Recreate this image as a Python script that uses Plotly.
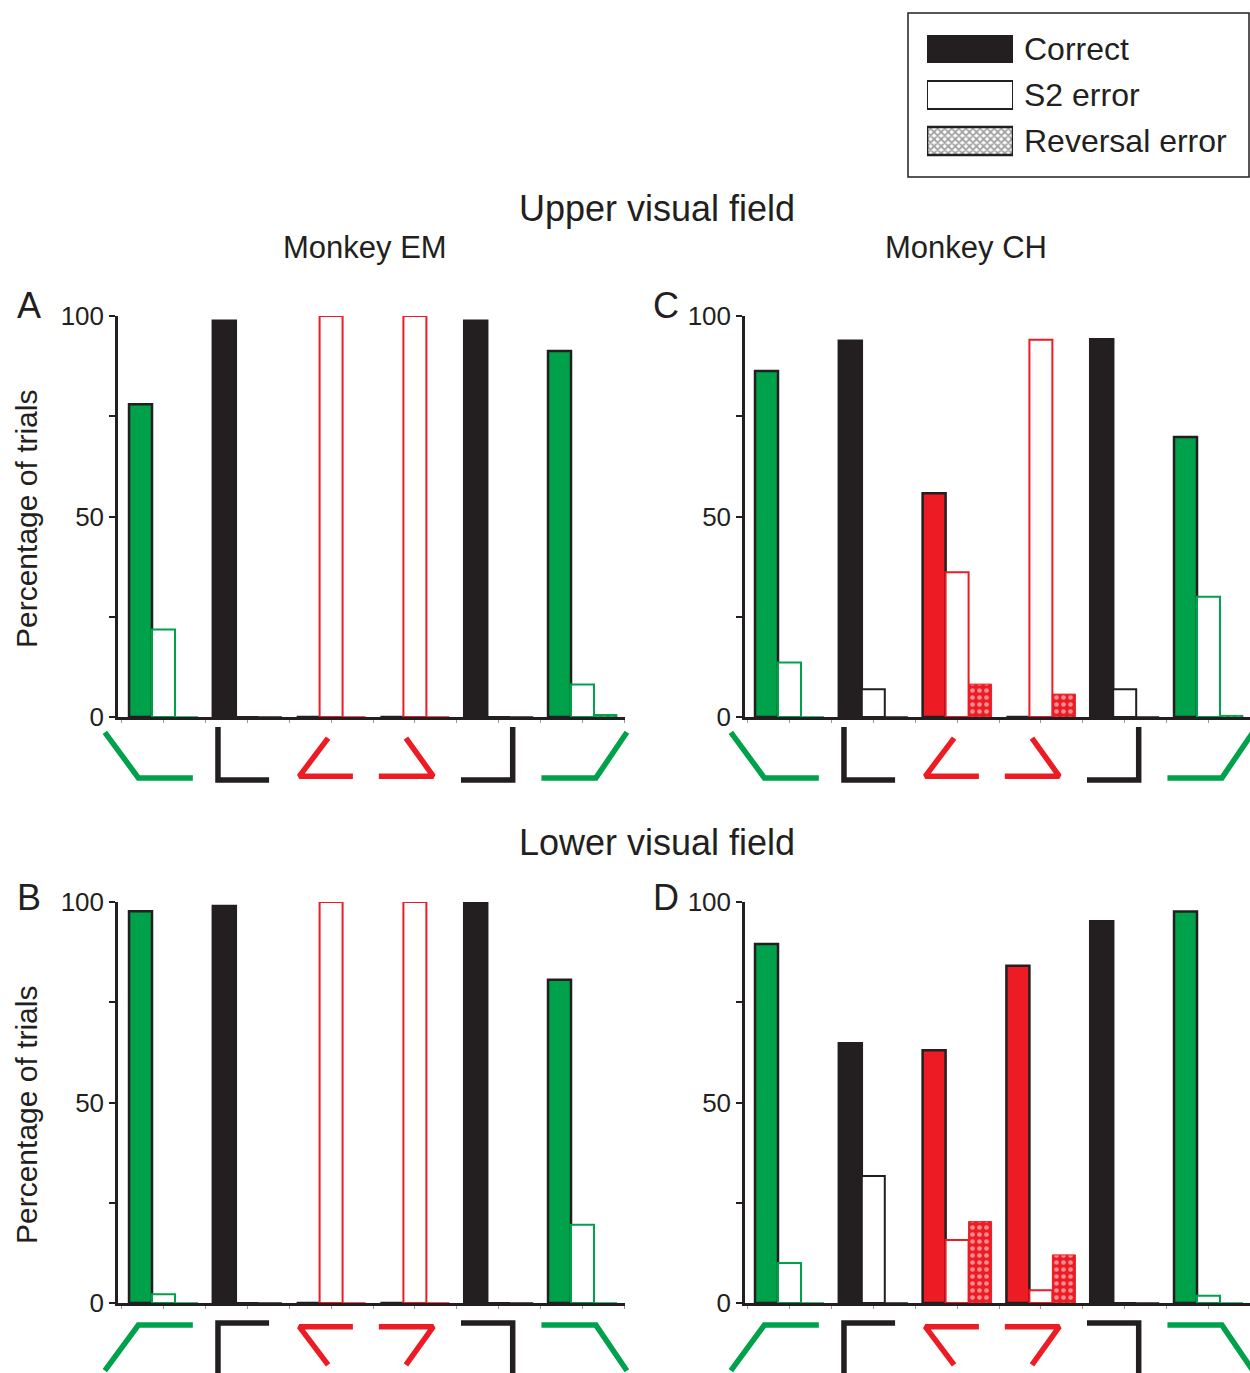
import plotly.graph_objects as go

# ---------------- data ----------------
STIMULI = ["obtuse-left", "right-left", "acute-left", "acute-right", "right-right", "obtuse-right"]
GROUP_COLORS = ["#00a14b", "#231f20", "#ed1c24", "#ed1c24", "#231f20", "#00a14b"]
SERIES_NAMES = ["Correct", "S2 error", "Reversal error"]

UPPER_EM_CORRECT = [78.0, 98.8, 0, 0, 98.8, 91.3]
UPPER_EM_S2 = [21.8, 0, 100, 100, 0, 8.1]
UPPER_EM_REV = [0, 0, 0, 0, 0, 0.6]

UPPER_CH_CORRECT = [86.3, 93.8, 55.8, 0, 94.2, 69.8]
UPPER_CH_S2 = [13.6, 6.9, 36.1, 94.1, 6.9, 30.0]
UPPER_CH_REV = [0, 0, 8.2, 5.7, 0, 0.4]

LOWER_EM_CORRECT = [97.7, 99.0, 0, 0, 100, 80.6]
LOWER_EM_S2 = [2.2, 0, 100, 100, 0, 19.5]
LOWER_EM_REV = [0, 0, 0, 0, 0, 0]

LOWER_CH_CORRECT = [89.5, 64.8, 63.0, 84.1, 95.2, 97.6]
LOWER_CH_S2 = [10.0, 31.7, 15.7, 3.2, 0, 1.8]
LOWER_CH_REV = [0, 0, 20.3, 12.0, 0, 0]

Y_TICKS = [0, 25, 50, 75, 100]
Y_TICKTEXT = ["0", "", "50", "", "100"]

# ---------------- style / layout ----------------
W, H = 1250, 1373
DARK = "#231f20"
FONT = "Liberation Sans, Arial, Helvetica, sans-serif"
PPU = 83.8  # pixels per category unit

# icon glyph templates (x offset from category centre, y in icon units)
ICON_TEMPLATES = [
    ([-0.70, -0.30, 0.35], [0.90, 0.04, 0.04]),
    ([-0.35, -0.35, 0.26], [1.00, 0.00, 0.00]),
    ([-0.036, -0.38, 0.26], [0.79, 0.07, 0.07]),
    ([-0.43, 0.22, -0.107], [0.07, 0.07, 0.79]),
    ([-0.45, 0.167, 0.167], [0.00, 0.00, 1.00]),
    ([-0.49, 0.16, 0.53], [0.04, 0.04, 0.90]),
]


def px_x(x):
    return x / W


def px_y(y):
    return 1 - y / H


def xr(d0, d1, c0):
    return [(d0 - c0) / PPU, (d1 - c0) / PPU]


positions = list(range(len(STIMULI)))

panels = [
    ("A", UPPER_EM_CORRECT, UPPER_EM_S2, UPPER_EM_REV, 118, 625, 163.5, 316, 717),
    ("C", UPPER_CH_CORRECT, UPPER_CH_S2, UPPER_CH_REV, 745, 1250, 789.5, 316, 717),
    ("B", LOWER_EM_CORRECT, LOWER_EM_S2, LOWER_EM_REV, 118, 625, 163.5, 902, 1303),
    ("D", LOWER_CH_CORRECT, LOWER_CH_S2, LOWER_CH_REV, 745, 1250, 789.5, 902, 1303),
]

fig = go.Figure()
layout_axes = {}

for k, (name, corr, s2, rev, a0, a1, c0, top, bot) in enumerate(panels):
    n = k + 1
    xa = "x" if n == 1 else f"x{n}"
    ya = "y" if n == 1 else f"y{n}"
    fig.add_trace(go.Bar(
        x=positions, y=corr, xaxis=xa, yaxis=ya, name=SERIES_NAMES[0],
        marker=dict(color=GROUP_COLORS, line=dict(color=DARK, width=2.5)),
        cliponaxis=False, showlegend=False))
    fig.add_trace(go.Bar(
        x=positions, y=s2, xaxis=xa, yaxis=ya, name=SERIES_NAMES[1],
        marker=dict(color="white", line=dict(color=GROUP_COLORS, width=2)),
        cliponaxis=False, showlegend=False))
    fig.add_trace(go.Bar(
        x=positions, y=rev, xaxis=xa, yaxis=ya, name=SERIES_NAMES[2],
        marker=dict(color=GROUP_COLORS, line=dict(color=GROUP_COLORS, width=1),
                    pattern=dict(shape=".", fgcolor="white", bgcolor=GROUP_COLORS,
                                 size=7, solidity=0.35)),
        cliponaxis=False, showlegend=False))

    key = "" if n == 1 else str(n)
    layout_axes[f"xaxis{key}"] = dict(
        domain=[px_x(a0), px_x(a1)], range=xr(a0, a1, c0), anchor=ya,
        showline=True, linewidth=2.5, linecolor=DARK, showgrid=False, zeroline=False,
        ticks="outside", ticklen=3, tickwidth=1, tickcolor="#999999",
        tickvals=[i / 2 for i in range(-1, 12)], showticklabels=False)
    layout_axes[f"yaxis{key}"] = dict(
        domain=[px_y(bot), px_y(top)], range=[0, 100], anchor=xa,
        showline=True, linewidth=2.5, linecolor=DARK, showgrid=False, zeroline=False,
        ticks="outside", ticklen=6, tickwidth=2, tickcolor=DARK,
        tickvals=Y_TICKS, ticktext=Y_TICKTEXT,
        tickfont=dict(size=26, color=DARK, family=FONT))

    # icon axes
    m = n + 4
    ixa, iya = f"x{m}", f"y{m}"
    upper = top < 500
    if a0 < 300:
        d0, d1 = 92, 645
    else:
        d0, d1 = 715, 1250
    layout_axes[f"xaxis{m}"] = dict(domain=[px_x(d0), px_x(d1)], range=xr(d0, d1, c0),
                                    anchor=iya, visible=False)
    if upper:
        layout_axes[f"yaxis{m}"] = dict(domain=[px_y(786), px_y(722)],
                                        range=[-6 / 53, 1 + 5 / 53], anchor=ixa, visible=False)
    else:
        layout_axes[f"yaxis{m}"] = dict(domain=[0, px_y(1318)],
                                        range=[(1373 - 1323) / 53, -5 / 53], anchor=ixa, visible=False)
    for i, (tx, ty) in enumerate(ICON_TEMPLATES):
        fig.add_trace(go.Scatter(
            x=[positions[i] + v for v in tx], y=ty, xaxis=ixa, yaxis=iya,
            mode="lines", line=dict(color=GROUP_COLORS[i], width=5.5),
            hoverinfo="skip", showlegend=False))

# legend drawn as a small bar subplot
legend_y = list(range(len(SERIES_NAMES)))
fig.add_trace(go.Bar(
    y=legend_y, x=[1] * len(SERIES_NAMES), orientation="h", xaxis="x9", yaxis="y9",
    width=0.61,
    marker=dict(color=[DARK, "white", "white"],
                line=dict(color=DARK, width=[0, 2, 2.5]),
                pattern=dict(shape=["", "", "x"], fgcolor=DARK, bgcolor=[DARK, "white", "white"],
                             size=5, solidity=0.6)),
    showlegend=False, hoverinfo="skip"))
layout_axes["xaxis9"] = dict(domain=[px_x(927), px_x(1013)], range=[0, 1], anchor="y9", visible=False)
layout_axes["yaxis9"] = dict(domain=[px_y(164), px_y(26)], range=[2.5, -0.5], anchor="x9",
                             side="right", showline=False, showgrid=False, zeroline=False,
                             ticks="", tickvals=legend_y, ticktext=SERIES_NAMES,
                             ticklabelstandoff=10, automargin=False,
                             tickfont=dict(size=32, color=DARK, family=FONT))

annotations = []


def ann(text, x, y, size, angle=0):
    annotations.append(dict(text=text, x=px_x(x), y=px_y(y), xref="paper", yref="paper",
                            showarrow=False, xanchor="center", yanchor="middle",
                            textangle=angle, font=dict(size=size, color=DARK, family=FONT)))


ann("Upper visual field", 657, 209, 36)
ann("Lower visual field", 657, 842, 36)
ann("Monkey EM", 365, 248, 31)
ann("Monkey CH", 966, 248, 31)
ann("A", 29, 305, 36)
ann("C", 666, 305, 36)
ann("B", 29, 897, 36)
ann("D", 666, 897, 36)
ann("Percentage of trials", 26, 519, 30, -90)
ann("Percentage of trials", 26, 1115, 30, -90)

fig.update_layout(
    width=W, height=H, margin=dict(l=0, r=0, t=0, b=0, pad=0, autoexpand=False),
    paper_bgcolor="white", plot_bgcolor="rgba(0,0,0,0)",
    barmode="group", bargap=0.177, bargroupgap=0,
    font=dict(family=FONT, color=DARK),
    annotations=annotations,
    shapes=[dict(type="rect", xref="paper", yref="paper",
                 x0=px_x(908), x1=px_x(1249), y0=px_y(177), y1=px_y(13),
                 line=dict(color=DARK, width=1.5), fillcolor="rgba(0,0,0,0)")],
    **layout_axes)

fig.write_html("out.html")
